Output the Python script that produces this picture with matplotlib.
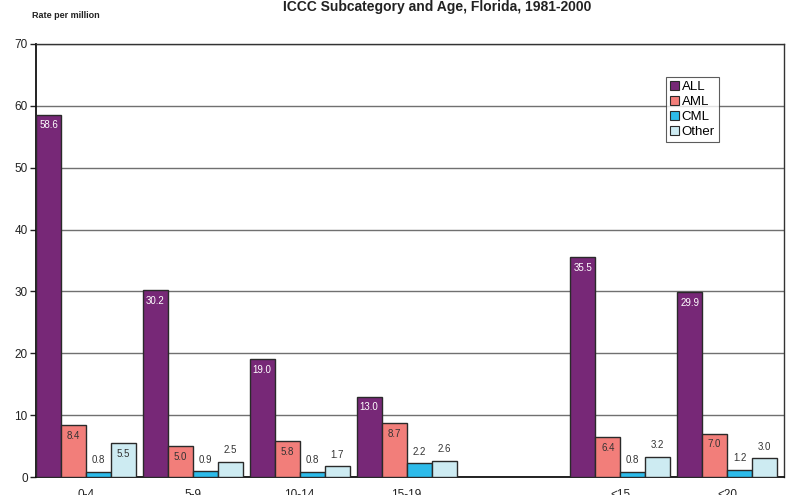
import matplotlib
matplotlib.use("Agg")
import matplotlib.pyplot as plt
import numpy as np

categories = ["0-4", "5-9", "10-14", "15-19", "", "<15", "<20"]
series = ["ALL", "AML", "CML", "Other"]
all_vals = [58.6, 30.2, 19.0, 13.0, None, 35.5, 29.9]
aml_vals = [8.4, 5.0, 5.8, 8.7, None, 6.4, 7.0]
cml_vals = [0.8, 0.9, 0.8, 2.2, None, 0.8, 1.2]
other_vals = [5.5, 2.5, 1.7, 2.6, None, 3.2, 3.0]
yticks = [0, 10, 20, 30, 40, 50, 60, 70]

colors = ["#772877", "#F27E7A", "#2DBBEA", "#CDEBF2"]
label_colors = ["white", "#333333", "#333333", "#333333"]

plt.rcParams['font.family'] = ['Liberation Sans', 'DejaVu Sans']

fig = plt.figure(figsize=(7.89, 4.95), dpi=100)
ax = fig.add_axes([36/789, 18/495, 748/789, 433/495])

w = 0.234
x = np.arange(len(categories))
data = [all_vals, aml_vals, cml_vals, other_vals]
for i, (name, vals) in enumerate(zip(series, data)):
    xs = [xi - 0.5 + (i + 0.5) * w for xi, v in zip(x, vals) if v is not None]
    vs = [v for v in vals if v is not None]
    ax.bar(xs, vs, width=w, color=colors[i], edgecolor="#2a2a2a",
           linewidth=1.0, label=name, zorder=3)
    for xx, v in zip(xs, vs):
        if v >= 4:
            ax.text(xx, v - 0.9, f"{v:.1f}", ha="center", va="top",
                    fontsize=7, color=label_colors[i], zorder=4)
        else:
            ax.text(xx, v + 1.1, f"{v:.1f}", ha="center", va="bottom",
                    fontsize=7, color="#333333", zorder=4)

ax.set_xlim(-0.5, len(categories) - 0.5)
ax.set_ylim(0, 70)
ax.set_yticks(yticks)
ax.set_yticklabels([str(t) for t in yticks], fontsize=8.5, color="#222222")
ax.yaxis.grid(True, color="#707070", linewidth=1.0, zorder=0)
ax.set_axisbelow(True)

tick_pos = [xi - 0.5 + 2 * w for xi in x]
ax.set_xticks(tick_pos)
ax.set_xticklabels(categories, fontsize=8.5, color="#222222")
ax.tick_params(axis="x", length=0, pad=9)
ax.tick_params(axis="y", length=4, width=1, color="#222222", pad=2)

for s in ["left", "bottom"]:
    ax.spines[s].set_color("#111111")
    ax.spines[s].set_linewidth(1.3)
for s in ["top", "right"]:
    ax.spines[s].set_color("#333333")
    ax.spines[s].set_linewidth(1.0)

leg = ax.legend(loc="upper left", bbox_to_anchor=(630/748, (477-77)/433),
                fontsize=9.5, frameon=True, fancybox=False, handlelength=0.7,
                handleheight=0.7, handletextpad=0.2, borderpad=0.3,
                labelspacing=0.2, borderaxespad=0)
leg.get_frame().set_edgecolor("#333333")
leg.get_frame().set_linewidth(0.8)
for h in leg.legend_handles:
    h.set_linewidth(0.8)

fig.text(437/789, 1 - 7/495, "ICCC Subcategory and Age, Florida, 1981-2000",
         ha="center", va="center", fontsize=10, fontweight="bold", color="#222222")
fig.text(32/789, 1 - 15/495, "Rate per million", ha="left", va="center",
         fontsize=6.5, fontweight="bold", color="#222222")

fig.savefig("out.png", dpi=100)
